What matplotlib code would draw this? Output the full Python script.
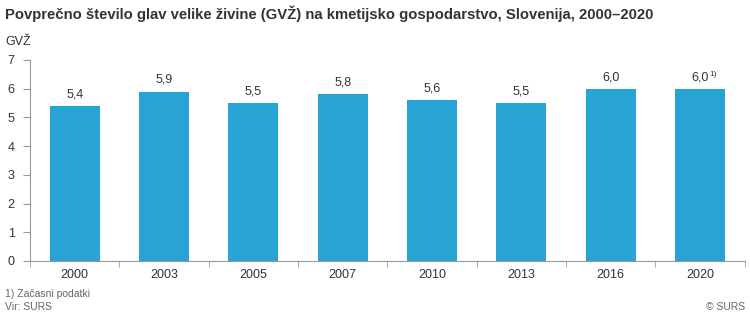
import matplotlib
matplotlib.use("Agg")
import matplotlib.pyplot as plt
import numpy as np

plt.rcParams['font.family'] = ['Liberation Sans', 'DejaVu Sans']

years = ['2000', '2003', '2005', '2007', '2010', '2013', '2016', '2020']
values = [5.4, 5.9, 5.5, 5.8, 5.6, 5.5, 6.0, 6.0]
labels = ['5,4', '5,9', '5,5', '5,8', '5,6', '5,5', '6,0', '6,0']
notes = ['', '', '', '', '', '', '', '1)']

bar_color = '#27a3d4'
axis_color = '#999999'
text_color = '#333333'

fig = plt.figure(figsize=(7.5, 3.14), dpi=100)
ax = fig.add_axes([0.04, 0.169, 0.953, 0.64])

x = np.arange(len(years))
ax.bar(x, values, width=0.56, color=bar_color, zorder=2)

for xi, v, lab, note in zip(x, values, labels, notes):
    ax.annotate(lab, (xi, v), xytext=(0, 4), textcoords='offset points',
                ha='center', va='bottom', fontsize=9, color=text_color)
    if note:
        ax.annotate(note, (xi, v), xytext=(6.5, 8), textcoords='offset points',
                    ha='left', va='bottom', fontsize=6, color=text_color)

ax.set_xlim(-0.5, len(years) - 0.5)
ax.set_ylim(0, 7)
ax.set_yticks(range(0, 8))
ax.set_xticks(x)
ax.set_xticklabels(years)
ax.set_xticks(np.arange(-0.5, len(years)), minor=True)
ax.tick_params(axis='x', which='major', length=0, pad=6, labelsize=9, labelcolor=text_color)
ax.tick_params(axis='x', which='minor', length=4, color=axis_color, direction='out')
ax.tick_params(axis='y', length=5, color=axis_color, labelsize=9, labelcolor=text_color, pad=6)

for s in ['top', 'right']:
    ax.spines[s].set_visible(False)
for s in ['left', 'bottom']:
    ax.spines[s].set_color(axis_color)
    ax.spines[s].set_linewidth(0.8)

fig.text(0.007, 0.955, 'Povprečno število glav velike živine (GVŽ) na kmetijsko gospodarstvo, Slovenija, 2000–2020',
         fontsize=10.7, fontweight='bold', color=text_color, va='center', ha='left')
fig.text(0.007, 0.865, 'GVŽ', fontsize=9, color=text_color, va='center', ha='left')
fig.text(0.007, 0.064, '1) Začasni podatki', fontsize=7.5, color='#666666', va='center', ha='left')
fig.text(0.007, 0.022, 'Vir: SURS', fontsize=7.5, color='#666666', va='center', ha='left')
fig.text(0.993, 0.022, '© SURS', fontsize=7.5, color='#666666', va='center', ha='right')

fig.savefig('out.png', dpi=100)
